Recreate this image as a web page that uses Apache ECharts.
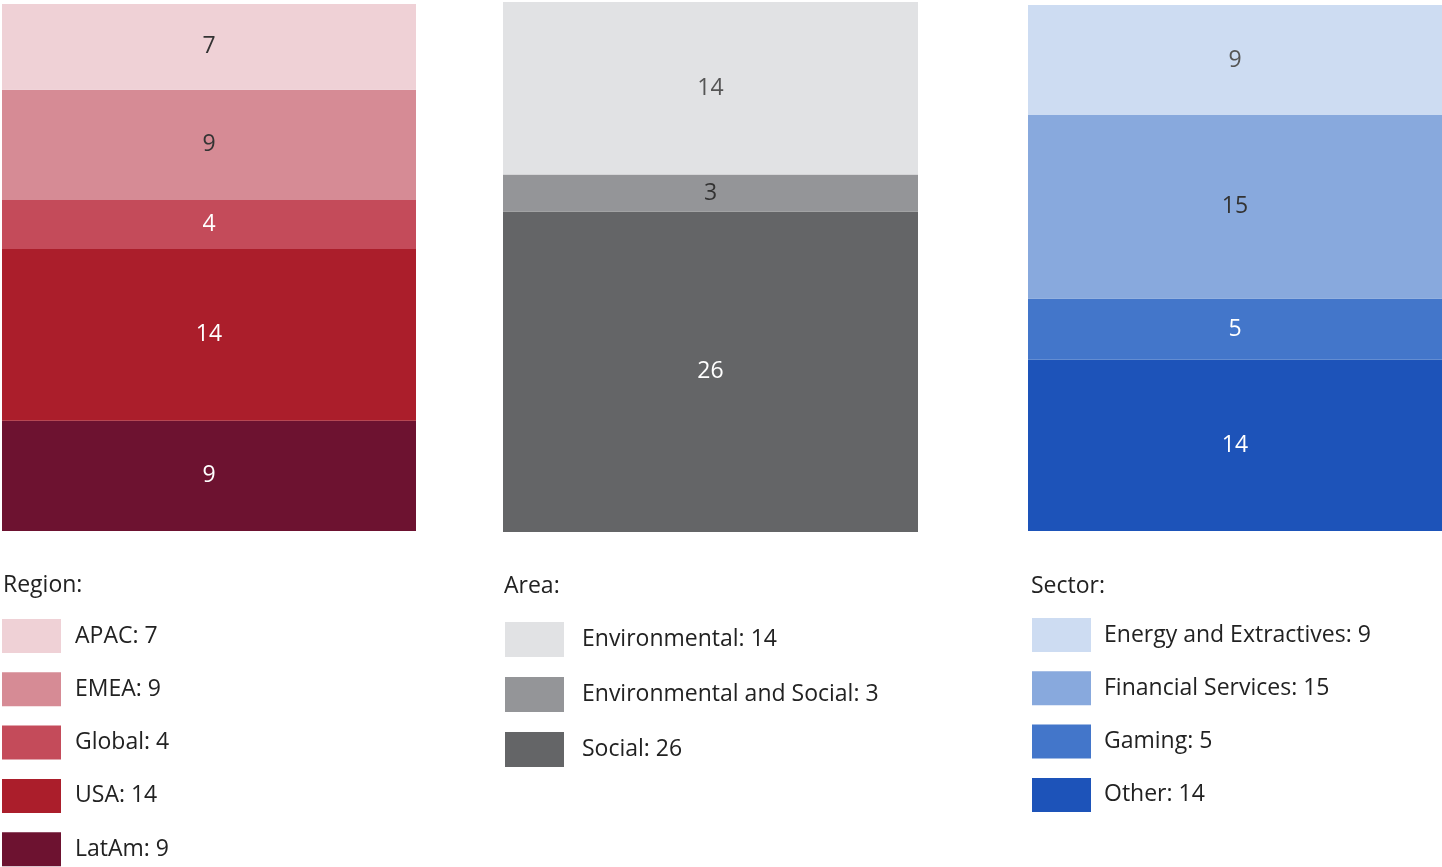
<!DOCTYPE html>
<html>
<head>
<meta charset="utf-8">
<script src="https://cdn.jsdelivr.net/npm/echarts@6/dist/echarts.min.js"></script>
<style>html,body{margin:0;padding:0;background:#fff}#c{width:1442px;height:867px}</style>
</head>
<body>
<div id="c"></div>
<script>
// Data (top-down order as shown in legends)
const regionNames = ['APAC', 'EMEA', 'Global', 'USA', 'LatAm'];
const regionValues = [7, 9, 4, 14, 9];
const areaNames = ['Environmental', 'Environmental and Social', 'Social'];
const areaValues = [14, 3, 26];
const sectorNames = ['Energy and Extractives', 'Financial Services', 'Gaming', 'Other'];
const sectorValues = [9, 15, 5, 14];
const groupTitles = ['Region:', 'Area:', 'Sector:'];

// Styles
const regionColors = ['#EFD1D6', '#D68B95', '#C44B5A', '#AB1E2B', '#6D1230'];
const areaColors = ['#E1E2E4', '#949598', '#646567'];
const sectorColors = ['#CDDCF2', '#88A9DD', '#4376CA', '#1D53B9'];
const regionLabelColors = ['#333', '#333', '#fff', '#fff', '#fff'];
const areaLabelColors = ['#555', '#333', '#fff'];
const sectorLabelColors = ['#555', '#333', '#fff', '#fff'];

const FONT = 'Open Sans';
const FS = 23;
const groups = [
  {names: regionNames, values: regionValues, colors: regionColors, lc: regionLabelColors,
   grid: {left: 2, width: 414, top: 4, height: 527},
   title: {left: 3, top: 574}, legend: {left: 2, top: 619, itemHeight: 34, itemGap: 19.3, pad: 9}},
  {names: areaNames, values: areaValues, colors: areaColors, lc: areaLabelColors,
   grid: {left: 503, width: 415, top: 2, height: 530},
   title: {left: 504, top: 575}, legend: {left: 505, top: 622, itemHeight: 35, itemGap: 20, pad: 13}},
  {names: sectorNames, values: sectorValues, colors: sectorColors, lc: sectorLabelColors,
   grid: {left: 1028, width: 414, top: 5, height: 526},
   title: {left: 1031, top: 575}, legend: {left: 1032, top: 618, itemHeight: 34, itemGap: 19.3, pad: 8}}
];

const valueMap = {};
groups.forEach(g => g.names.forEach((n, i) => { valueMap[n] = g.values[i]; }));

const option = {
  animation: false,
  textStyle: {fontFamily: FONT},
  grid: groups.map(g => Object.assign({}, g.grid)),
  xAxis: groups.map((g, i) => ({type: 'category', gridIndex: i, data: [''], show: false})),
  yAxis: groups.map((g, i) => ({type: 'value', gridIndex: i, min: 0,
    max: g.values.reduce((a, b) => a + b, 0), show: false})),
  title: groups.map((g, i) => ({text: groupTitles[i], left: g.title.left, top: g.title.top, padding: 0,
    textStyle: {fontFamily: FONT, fontSize: FS, fontWeight: 'normal', color: '#222'}})),
  legend: groups.map(g => ({
    data: g.names.slice(), orient: 'vertical', left: g.legend.left, top: g.legend.top, padding: 0,
    icon: 'rect', itemWidth: 59, itemHeight: g.legend.itemHeight, itemGap: g.legend.itemGap,
    selectedMode: false,
    formatter: n => n + ': ' + valueMap[n],
    textStyle: {fontFamily: FONT, fontSize: FS, color: '#222', padding: [0, 0, 0, g.legend.pad]}
  })),
  series: []
};

groups.forEach((g, gi) => {
  for (let i = g.names.length - 1; i >= 0; i--) {
    option.series.push({
      type: 'bar', name: g.names[i], stack: 'g' + gi, xAxisIndex: gi, yAxisIndex: gi,
      data: [g.values[i]], barWidth: '100%', barCategoryGap: 0,
      itemStyle: {color: g.colors[i]},
      label: {show: true, position: 'inside', fontFamily: FONT, fontSize: FS, color: g.lc[i]}
    });
  }
});

const chart = echarts.init(document.getElementById('c'), null, {renderer: 'canvas'});
chart.setOption(option);
</script>
</body>
</html>
